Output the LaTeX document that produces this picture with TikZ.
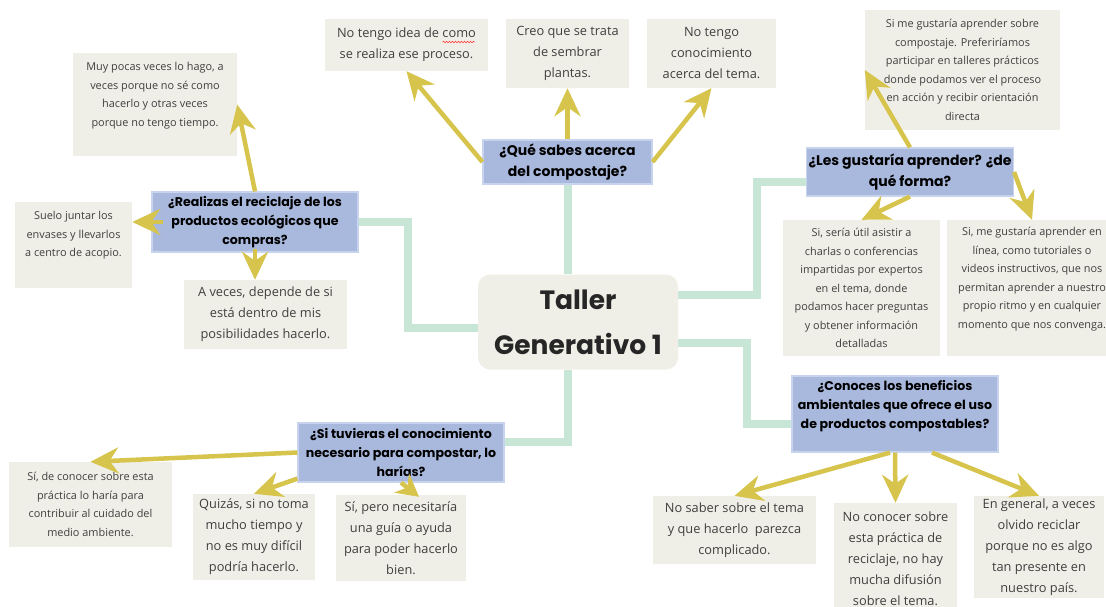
\documentclass[tikz,border=0pt]{standalone}
\usepackage{fontspec}
\setmainfont{Open Sans}
\newfontfamily\popfont{Poppins}
\usepackage{tikz}
\usetikzlibrary{calc, arrows.meta, backgrounds, decorations.pathmorphing}

\definecolor{azul}{HTML}{A9B9DE}
\definecolor{azulborde}{HTML}{C8D4EE}
\definecolor{crema}{HTML}{F0EFE7}
\definecolor{amarillo}{HTML}{D6C44C}
\definecolor{verde}{HTML}{C8E6D5}
\definecolor{gristexto}{HTML}{3F3F3F}

\begin{document}
\begin{tikzpicture}[x=1pt, y=-1pt,
    titulo/.style={fill=crema, rounded corners=12pt, align=center, text=black!85,
        font=\popfont\bfseries\fontsize{26.5}{45}\selectfont},
    pregunta/.style={draw=azulborde, line width=1.2pt, fill=azul, align=center, inner sep=2pt,
        text=black, font=\popfont\bfseries\fontsize{12.6}{19}\selectfont},
    grande/.style={font=\popfont\bfseries\fontsize{14}{21}\selectfont},
    respuesta/.style={fill=crema, align=center, inner sep=2pt, text=gristexto,
        font=\fontsize{12.8}{21}\selectfont},
    chica/.style={font=\fontsize{10.9}{18.5}\selectfont},
    caja/.style 2 args={minimum width=#1pt, minimum height=#2pt},
    rama/.style={draw=verde, line width=8pt},
    flecha/.style={draw=amarillo, line width=4.5pt, -{Stealth[length=28pt, width=26pt, inset=9pt]}}
]
\useasboundingbox (0,0) rectangle (1106,607);

% Centro
\node[titulo, caja={200}{95}] (taller) at (578,322) {Taller\\Generativo 1};

% Preguntas
\node[pregunta, grande, caja={169}{44}] (q1) at (567.5,162) {¿Qué sabes acerca\\del compostaje?};
\node[pregunta, caja={206}{60}] (q2) at (255,222) {¿Realizas el reciclaje de los\\productos ecológicos que\\compras?};
\node[pregunta, grande, caja={206}{48}] (q3) at (910,172) {¿Les gustaría aprender? ¿de\\qué forma?};
\node[pregunta, caja={206}{59}] (q4) at (401,452.5) {¿Si tuvieras el conocimiento\\necesario para compostar, lo\\harías?};
\node[pregunta, caja={206}{76}, text depth=20pt] (q5) at (895,414) {¿Conoces los beneficios\\ambientales que ofrece el uso\\de productos compostables?};

% Respuestas
\node[respuesta, caja={163}{52}] (a1a) at (406.5,45) {No tengo idea de como\\se realiza ese proceso.};
\node[respuesta, caja={123}{69}] (a1b) at (567.5,53.5) {Creo que se trata\\de sembrar\\plantas.};
\node[respuesta, caja={129}{69}] (a1c) at (711.5,53.5) {No tengo\\conocimiento\\acerca del tema.};

\node[respuesta, chica, caja={164}{103}, text depth=20pt] (a2a) at (155,104.5) {Muy pocas veces lo hago, a\\veces porque no sé como\\hacerlo y otras veces\\porque no tengo tiempo.};
\node[respuesta, chica, caja={117}{86}, text depth=22pt] (a2b) at (73.5,245) {Suelo juntar los\\envases y llevarlos\\a centro de acopio.};
\node[respuesta, caja={163}{69}] (a2c) at (265.5,314.5) {A veces, depende de si\\está dentro de mis\\posibilidades hacerlo.};

\node[respuesta, chica, caja={195}{120}] (a3a) at (962.5,70) {Si me gustaría aprender sobre\\compostaje. Preferiríamos\\participar en talleres prácticos\\donde podamos ver el proceso\\en acción y recibir orientación\\directa};
\node[respuesta, chica, caja={157}{136}] (a3b) at (861.5,288) {Si, sería útil asistir a\\charlas o conferencias\\impartidas por expertos\\en el tema, donde\\podamos hacer preguntas\\y obtener información\\detalladas};
\node[respuesta, chica, caja={170}{136}, text depth=20pt] (a3c) at (1032,288) {Si, me gustaría aprender en\\línea, como tutoriales o\\videos instructivos, que nos\\permitan aprender a nuestro\\propio ritmo y en cualquier\\momento que nos convenga.};

\node[respuesta, chica, caja={163}{85}] (a4a) at (90.5,504.5) {Sí, de conocer sobre esta\\práctica lo haría para\\contribuir al cuidado del\\medio ambiente.};
\node[respuesta, caja={122}{86}] (a4b) at (254,537) {Quizás, si no toma\\mucho tiempo y\\no es muy difícil\\podría hacerlo.};
\node[respuesta, caja={130}{86}] (a4c) at (401,538) {Sí, pero necesitaría\\una guía o ayuda\\para poder hacerlo\\bien.};

\node[respuesta, caja={163}{68}] (a5a) at (734.5,530) {No saber sobre el tema\\y que hacerlo\ \ parezca\\complicado.};
\node[respuesta, caja={123}{112}] (a5b) at (895.5,559) {No conocer sobre\\esta práctica de\\reciclaje, no hay\\mucha difusión\\sobre el tema.};
\node[respuesta, caja={130}{102}] (a5c) at (1039,547) {En general, a veces\\olvido reciclar\\porque no es algo\\tan presente en\\nuestro país.};

% subrayado rojo bajo "como"
\draw[red!80, line width=0.6pt, decorate, decoration={snake, amplitude=0.7pt, segment length=3pt}]
    ([shift={(36,-3)}]a1a.center) -- ([shift={(68,-3)}]a1a.center);

% Ramas verdes
\begin{scope}[on background layer]
\fill[white] (0,0) rectangle (1106,607);
\draw[rama] (q1.south) -- (q1.south |- taller.north);
\draw[rama] ([shift={(0,6)}]taller.west) -- ++(-70,0) |- (q2.east);
\draw[rama] ([shift={(0,-27)}]taller.east) -- ++(79,0) |- ([shift={(0,10)}]q3.west);
\draw[rama] ([shift={(0,21)}]taller.east) -- ++(69,0) |- ([shift={(0,10)}]q5.west);
\draw[rama] ([shift={(-10,0)}]taller.south) |- ([shift={(0,-11)}]q4.east);
\end{scope}

% Flechas
\draw[flecha] (q1.west) -- (a1a.south);
\draw[flecha] (q1.north) -- (a1b.south);
\draw[flecha] (q1.east) -- (a1c.south);
\draw[flecha] (q2.north) -- (a2a.east);
\draw[flecha] ([shift={(12,0)}]q2.west) -- (a2b.east |- q2.west);
\draw[flecha] ([shift={(0,-4)}]q2.south) -- (q2.south |- a2c.north);
\draw[flecha] (q3.north) -- (a3a.west);
\draw[flecha] (q3.south) -- (a3b.north);
\draw[flecha] (q3.east) -- (a3c.north);
\draw[flecha] (q4.west) -- (a4a.north);
\draw[flecha] ([shift={(0,-4)}]q4.south west) -- (a4b.north);
\draw[flecha, -{Stealth[length=22pt, width=24pt, inset=7pt]}] (q4.south) -- ([shift={(18,2)}]a4c.north);
\draw[flecha] ([shift={(-5,0)}]q5.south) -- (a5a.north);
\draw[flecha] (q5.south) -- (a5b.north);
\draw[flecha] ([shift={(37,0)}]q5.south) -- (a5c.north);
\end{tikzpicture}
\end{document}
